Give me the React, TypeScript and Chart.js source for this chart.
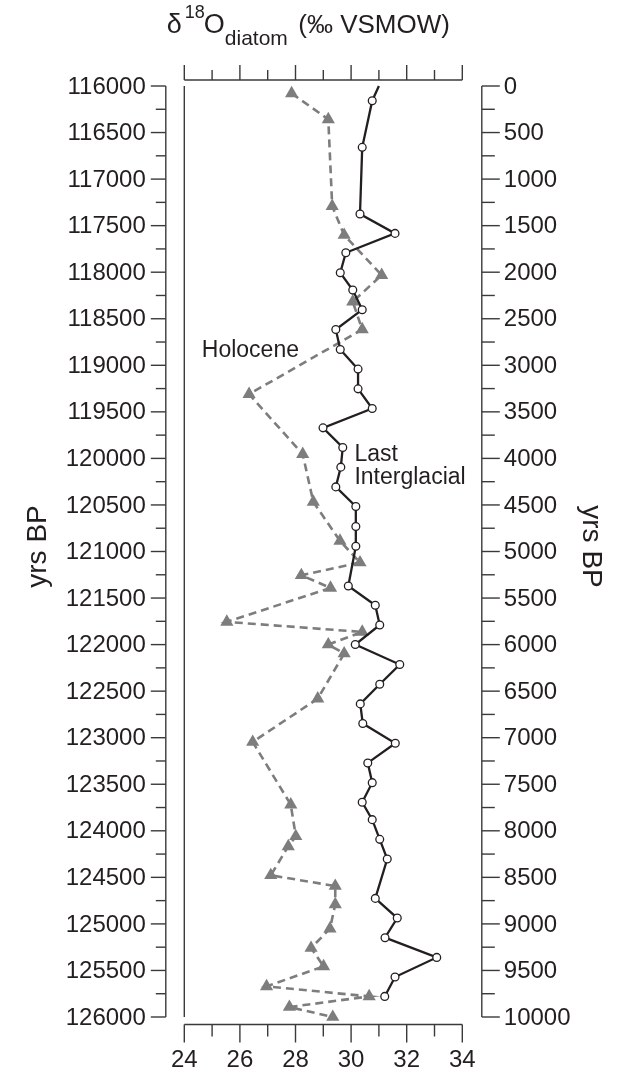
import React, { useEffect, useRef } from "react";
import { Chart, registerables } from "chart.js";

Chart.register(...registerables);

// Last Interglacial (left axis, yrs BP)
const liAge = [
  116000, 116158, 116659, 117375, 117583, 117791, 118006, 118192, 118403, 118615,
  118830, 119041, 119253, 119464, 119672, 119883, 120094, 120306, 120517, 120731,
  120943, 121370, 121577, 121789, 121999, 122214, 122426, 122637, 122848, 123060,
  123271, 123483, 123694, 123880, 124092, 124303, 124726, 124937, 125148, 125360,
  125571, 125779,
];
const liD18O = [
  31.0, 30.76, 30.4, 30.32, 31.58, 29.81, 29.61, 30.06, 30.4, 29.45,
  29.61, 30.25, 30.25, 30.76, 28.99, 29.7, 29.63, 29.45, 30.17, 30.17,
  30.17, 29.9, 30.87, 31.03, 30.15, 31.75, 31.03, 30.33, 30.42, 31.59,
  30.6, 30.76, 30.4, 30.76, 31.03, 31.3, 30.87, 31.66, 31.22, 33.08,
  31.58, 31.21,
];
// Holocene (right axis, yrs BP)
const holAge = [
  79, 358, 1290, 1601, 2031, 2317, 2615, 3310, 3955, 4467,
  4886, 5118, 5255, 5391, 5756, 5864, 5999, 6096, 6580, 7046,
  7719, 8059, 8167, 8478, 8593, 8790, 9051, 9259, 9456, 9671,
  9779, 9893, 10000,
];
const holD18O = [
  27.86, 29.18, 29.32, 29.75, 31.1, 30.06, 30.4, 26.33, 28.26, 28.64,
  29.6, 30.32, 28.21, 29.26, 25.53, 30.4, 29.18, 29.75, 28.8, 26.46,
  27.83, 28.01, 27.74, 27.11, 29.43, 29.43, 29.24, 28.56, 29.01, 26.96,
  30.65, 27.78, 29.34,
];

const xTickLabels = [24, 26, 28, 30, 32, 34];
const leftTickLabels = [
  116000, 116500, 117000, 117500, 118000, 118500, 119000, 119500, 120000, 120500,
  121000, 121500, 122000, 122500, 123000, 123500, 124000, 124500, 125000, 125500, 126000,
];
const rightTickLabels = [
  0, 500, 1000, 1500, 2000, 2500, 3000, 3500, 4000, 4500,
  5000, 5500, 6000, 6500, 7000, 7500, 8000, 8500, 9000, 9500, 10000,
];

const FONT = '"Liberation Sans", Arial, Helvetica, sans-serif';
const INK = "#231f20";
const AXIS = "#3a3a3a";
const GREY = "#7d7d7d";

const mids = (arr: number[]) => arr.slice(0, -1).map((v, i) => (v + arr[i + 1]) / 2);

const axesPlugin = {
  id: "customAxes",
  afterDraw(chart: any) {
    const ctx = chart.ctx as CanvasRenderingContext2D;
    const xs = chart.scales.x;
    const yL = chart.scales.y;
    const yR = chart.scales.y2;
    const x24 = xs.getPixelForValue(24);
    const x34 = xs.getPixelForValue(34);
    const top = yL.getPixelForValue(116000);
    const bot = yL.getPixelForValue(126000);
    const line = (a: number, b: number, c: number, d: number) => {
      ctx.beginPath();
      ctx.moveTo(a, b);
      ctx.lineTo(c, d);
      ctx.stroke();
    };
    ctx.save();
    ctx.strokeStyle = AXIS;
    ctx.lineWidth = 1.4;
    ctx.fillStyle = INK;

    // inner line at x = 24
    line(x24, top, x24, bot);

    // left axis
    const lx = x24 - 18.5;
    line(lx, top, lx, bot);
    ctx.font = `24px ${FONT}`;
    ctx.textAlign = "right";
    ctx.textBaseline = "middle";
    leftTickLabels.forEach((v) => {
      const py = yL.getPixelForValue(v);
      line(lx - 15, py, lx, py);
      ctx.fillText(String(v), lx - 20, py + 1);
    });
    mids(leftTickLabels).forEach((v) => {
      const py = yL.getPixelForValue(v);
      line(lx - 10, py, lx, py);
    });

    // right axis
    const rx = x34 + 19.5;
    line(rx, yR.getPixelForValue(0), rx, yR.getPixelForValue(10000));
    ctx.textAlign = "left";
    rightTickLabels.forEach((v) => {
      const py = yR.getPixelForValue(v);
      line(rx, py, rx + 18, py);
      ctx.fillText(String(v), rx + 22, py + 1);
    });
    mids(rightTickLabels).forEach((v) => {
      const py = yR.getPixelForValue(v);
      line(rx, py, rx + 13, py);
    });

    // bottom axis
    const by = bot + 7.5;
    line(x24, by, x34, by);
    ctx.textAlign = "center";
    ctx.font = `24px ${FONT}`;
    xTickLabels.forEach((v) => {
      const px = xs.getPixelForValue(v);
      line(px, by, px, by + 18);
      ctx.fillText(String(v), px, by + 36);
    });
    mids(xTickLabels).forEach((v) => {
      const px = xs.getPixelForValue(v);
      line(px, by, px, by + 12);
    });

    // top axis
    const ty = top - 6;
    line(x24, ty, x34, ty);
    xTickLabels.forEach((v) => {
      const px = xs.getPixelForValue(v);
      line(px, ty, px, ty - 15);
    });
    mids(xTickLabels).forEach((v) => {
      const px = xs.getPixelForValue(v);
      line(px, ty, px, ty - 10);
    });

    // title: δ18O diatom (‰ VSMOW)
    ctx.textAlign = "left";
    ctx.textBaseline = "alphabetic";
    const baseY = top - 53;
    const put = (t: string, size: number, x: number, dy: number) => {
      ctx.font = `${size}px ${FONT}`;
      ctx.fillText(t, x, baseY + dy);
    };
    put("δ", 27, x24 - 17.5, 0);
    put("18", 18, x24 + 0.5, -15);
    put("O", 27, x24 + 19.5, 0);
    put("diatom", 21, x24 + 40.5, 12);
    put("(‰ VSMOW)", 26, x24 + 114, 0);

    // y axis titles
    ctx.font = `28px ${FONT}`;
    ctx.textAlign = "center";
    ctx.textBaseline = "middle";
    const midY = (top + bot) / 2 - 5;
    ctx.save();
    ctx.translate(38, midY);
    ctx.rotate(-Math.PI / 2);
    ctx.fillText("yrs BP", 0, 0);
    ctx.restore();
    ctx.save();
    ctx.translate(591, midY);
    ctx.rotate(Math.PI / 2);
    ctx.fillText("yrs BP", 0, 0);
    ctx.restore();

    // series labels
    ctx.font = `23px ${FONT}`;
    ctx.textAlign = "left";
    ctx.textBaseline = "alphabetic";
    ctx.fillText("Holocene", xs.getPixelForValue(24.63), yR.getPixelForValue(2909));
    ctx.fillText("Last", xs.getPixelForValue(30.12), yR.getPixelForValue(4030));
    ctx.fillText("Interglacial", xs.getPixelForValue(30.12), yR.getPixelForValue(4030) + 23);

    ctx.restore();
  },
};

export default function App() {
  const ref = useRef<HTMLCanvasElement | null>(null);
  useEffect(() => {
    if (!ref.current) return;
    const chart = new Chart(ref.current, {
      type: "scatter",
      data: {
        datasets: [
          {
            label: "Last Interglacial",
            data: liAge.map((a, i) => ({ x: liD18O[i], y: a })),
            xAxisID: "x",
            yAxisID: "y",
            showLine: true,
            borderColor: INK,
            borderWidth: 2.3,
            pointRadius: liAge.map((_, i) => (i === 0 ? 0 : 3.9)),
            pointBackgroundColor: "#ffffff",
            pointBorderColor: INK,
            pointBorderWidth: 1.3,
            clip: false,
            tension: 0,
          } as any,
          {
            label: "Holocene",
            data: holAge.map((a, i) => ({ x: holD18O[i], y: a })),
            xAxisID: "x",
            yAxisID: "y2",
            showLine: true,
            borderColor: GREY,
            borderWidth: 2.6,
            borderDash: [8, 5],
            pointStyle: "triangle",
            pointRadius: 7.6,
            pointBackgroundColor: GREY,
            pointBorderColor: GREY,
            pointBorderWidth: 0,
            clip: false,
            tension: 0,
          } as any,
        ],
      },
      options: {
        responsive: false,
        maintainAspectRatio: false,
        devicePixelRatio: 1,
        animation: false,
        layout: { padding: { left: 184.3, right: 157.7, top: 86, bottom: 57 } },
        plugins: { legend: { display: false }, tooltip: { enabled: false } },
        scales: {
          x: { type: "linear", min: 24, max: 34, display: false },
          y: { type: "linear", min: 116000, max: 126000, reverse: true, display: false },
          y2: { type: "linear", position: "right", min: 0, max: 10000, reverse: true, display: false },
        },
      },
      plugins: [axesPlugin],
    });
    return () => chart.destroy();
  }, []);
  return (
    <div style={{ position: "absolute", left: 0, top: 0, width: 620, height: 1074, background: "#fff" }}>
      <canvas ref={ref} width={620} height={1074} style={{ width: 620, height: 1074, display: "block" }} />
    </div>
  );
}
